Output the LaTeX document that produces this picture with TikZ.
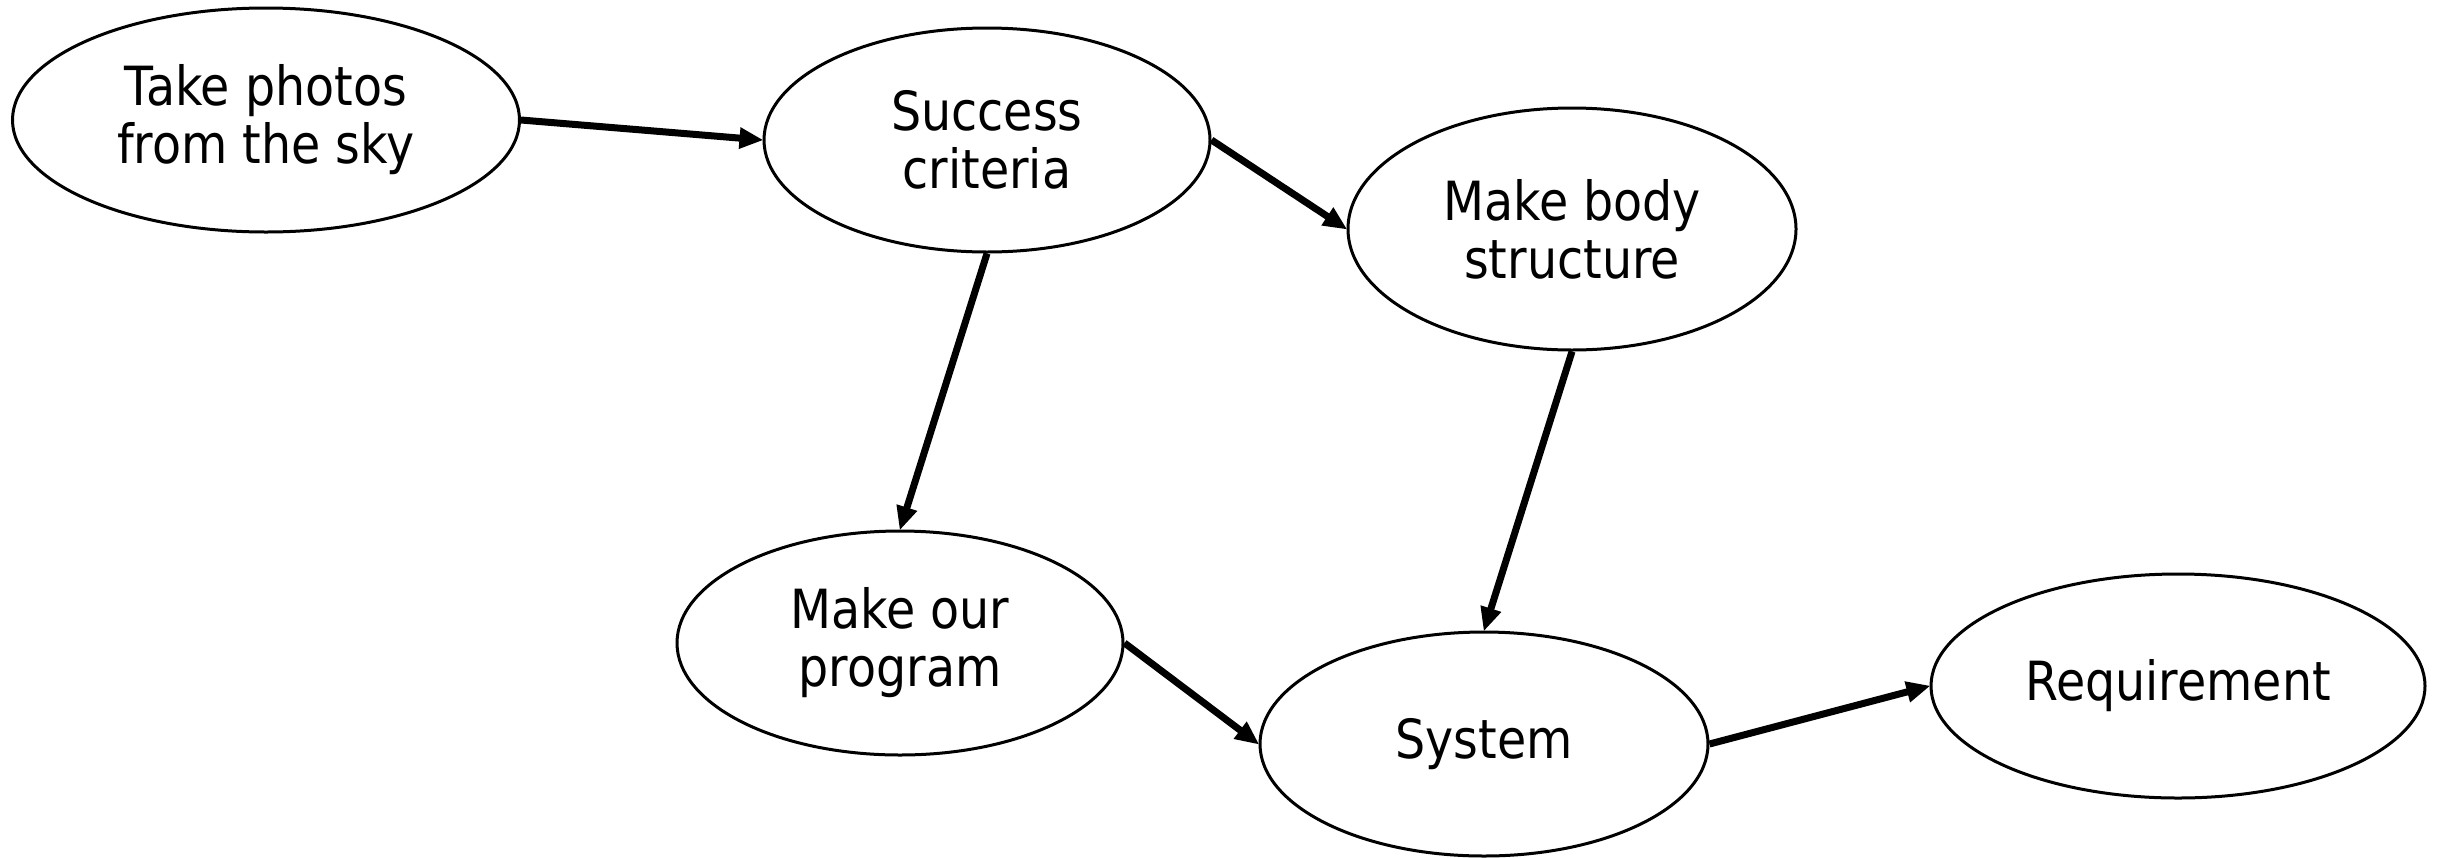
\documentclass[tikz,border=0pt]{standalone}
\usepackage{fontspec}
\setmainfont{DejaVu Sans}[FakeStretch=0.88]
\usetikzlibrary{shapes.geometric,arrows.meta}
\begin{document}
\begin{tikzpicture}[x=1pt,y=-1pt,
  bub/.style={draw=black,line width=3pt,ellipse,inner sep=0pt,align=center,
    font=\fontsize{54}{58}\selectfont,fill=white},
  conn/.style={line width=7pt,-{Triangle[length=24pt,width=20pt]},shorten >=-1pt}]
\fill[white] (0,0) rectangle (2440,857);
\useasboundingbox (0,0) rectangle (2440,857);
\node[bub,minimum width=507pt,minimum height=224pt] (photos) at (266,120) {Take photos\\from the sky};
\node[bub,minimum width=446pt,minimum height=224pt] (success) at (987,140) {Success\\criteria};
\node[bub,minimum width=448pt,minimum height=242pt] (body) at (1572,229) {Make body\\structure};
\node[bub,minimum width=446pt,minimum height=224pt] (program) at (900,643) {Make our\\program};
\node[bub,minimum width=448pt,minimum height=224pt] (system) at (1484,744) {System};
\node[bub,minimum width=494pt,minimum height=224pt] (req) at (2178,686) {Requirement};
\draw[conn] (photos.east) -- (success.west);
\draw[conn] (success.east) -- (body.west);
\draw[conn] (success.south) -- (program.north);
\draw[conn] (body.south) -- (system.north);
\draw[conn] (program.east) -- (system.west);
\draw[conn] (system.east) -- (req.west);
\end{tikzpicture}
\end{document}
